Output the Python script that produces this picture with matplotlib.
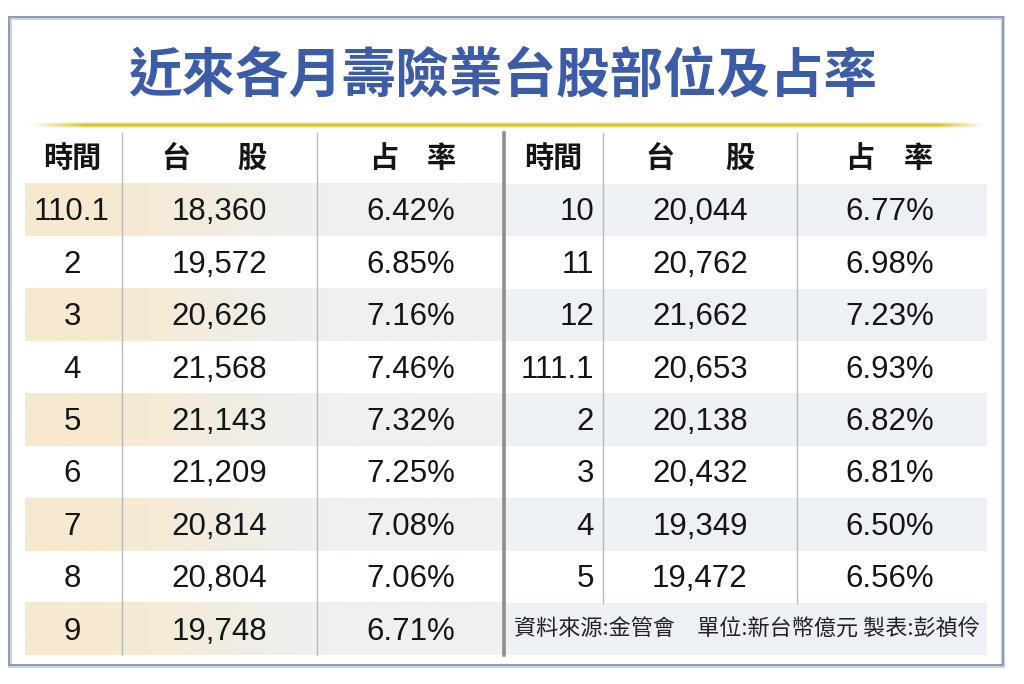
import numpy as np
import matplotlib
matplotlib.use("Agg")
import matplotlib.pyplot as plt
from matplotlib.patches import Rectangle
from matplotlib.colors import to_rgb

# ---- data ----
title = "近來各月壽險業台股部位及占率"
header_time = "時間"
header_stock = ("台", "股")
header_ratio = ("占", "率")
left_time = ["110.1", "2", "3", "4", "5", "6", "7", "8", "9"]
left_stock = [18360, 19572, 20626, 21568, 21143, 21209, 20814, 20804, 19748]
left_ratio = [6.42, 6.85, 7.16, 7.46, 7.32, 7.25, 7.08, 7.06, 6.71]
right_time = ["10", "11", "12", "111.1", "2", "3", "4", "5"]
right_stock = [20044, 20762, 21662, 20653, 20138, 20432, 19349, 19472]
right_ratio = [6.77, 6.98, 7.23, 6.93, 6.82, 6.81, 6.50, 6.56]
footnote = "資料來源:金管會　單位:新台幣億元 製表:彭禎伶"

W, H = 1024, 684
fig = plt.figure(figsize=(W / 100, H / 100), dpi=100)
ax = fig.add_axes([0, 0, 1, 1])
ax.set_xlim(0, W)
ax.set_ylim(H, 0)
ax.axis("off")

CJK = ["Noto Sans CJK TC", "DejaVu Sans"]
NUM = ["Liberation Sans", "DejaVu Sans"]

# frame
ax.add_patch(Rectangle((10, 18), 993, 648, fill=False, ec="#c9d3e3", lw=3.0, zorder=1))
ax.add_patch(Rectangle((9, 17), 994, 648, fill=False, ec="#8f9bb0", lw=1.4, zorder=2))

# title
ax.text(503, 76, title, ha="center", va="center", fontsize=38.5, fontweight="bold",
        color="#3c5ca7", family=CJK, zorder=5)

# yellow gradient line
n = 400
xs = np.linspace(0, 1, n)
alpha = np.clip(np.minimum(xs / 0.06, (1 - xs) / 0.05), 0, 1)
yc = np.array(to_rgb("#dcc22a"))
prof = np.array([0.25, 0.7, 1.0, 1.0, 0.7, 0.25])
img = np.zeros((len(prof), n, 4))
img[..., :3] = yc
img[..., 3] = prof[:, None] * alpha[None, :]
ax.imshow(img, extent=(28, 986, 128, 122), aspect="auto", interpolation="bilinear", zorder=3)

row_h = 52.4
row0 = 210
header_y = 158

def ry(i):
    return row0 + i * row_h

# banded rows
beige = np.array(to_rgb("#f6e9cf"))
gray_l = np.array(to_rgb("#eef0f2"))
gray_r = np.array(to_rgb("#edf0f4"))
for i in range(0, 9, 2):
    top = ry(i) - row_h / 2
    m = 300
    gx = np.linspace(0, 1, m)
    t = np.clip((gx - 0.18) / 0.45, 0, 1)[:, None]
    col = beige * (1 - t) + gray_l * t
    band = np.zeros((1, m, 3))
    band[0] = col
    ax.imshow(band, extent=(25, 504, top + row_h, top), aspect="auto",
              interpolation="bilinear", zorder=1)
    ax.add_patch(Rectangle((504, top), 483, row_h, fc=gray_r, ec="none", zorder=1))

# vertical separators
sep_bottom_left = ry(8) + row_h / 2
sep_bottom_right = ry(7) + row_h / 2
for x in (122, 317):
    ax.plot([x, x], [133, sep_bottom_left], color="#b9b9b9", lw=1.0, zorder=4)
for x in (603, 797):
    ax.plot([x, x], [133, sep_bottom_right], color="#b9b9b9", lw=1.0, zorder=4)
ax.plot([504, 504], [133, sep_bottom_left], color="#8e8e8e", lw=2.6, zorder=4)

# headers
hdr_kw = dict(ha="center", va="center", fontsize=21, fontweight="bold",
              color="#151515", family=CJK, zorder=5)
ax.text(72, header_y, header_time, **hdr_kw)
ax.text(176, header_y, header_stock[0], **hdr_kw)
ax.text(252, header_y, header_stock[1], **hdr_kw)
ax.text(384, header_y, header_ratio[0], **hdr_kw)
ax.text(441, header_y, header_ratio[1], **hdr_kw)
ax.text(553, header_y, header_time, **hdr_kw)
ax.text(660, header_y, header_stock[0], **hdr_kw)
ax.text(740, header_y, header_stock[1], **hdr_kw)
ax.text(860, header_y, header_ratio[0], **hdr_kw)
ax.text(918, header_y, header_ratio[1], **hdr_kw)

dy = 2.5
num_kw = dict(va="center", fontsize=22.5, color="#151515", family=NUM, zorder=5)
for i, (t_, s, r) in enumerate(zip(left_time, left_stock, left_ratio)):
    y = ry(i) + dy
    ax.text(72, y, t_, ha="center", **num_kw)
    ax.text(219, y, f"{s:,}", ha="center", **num_kw)
    ax.text(411, y, f"{r:.2f}%", ha="center", **num_kw)
for i, (t_, s, r) in enumerate(zip(right_time, right_stock, right_ratio)):
    y = ry(i) + dy
    ax.text(594, y, t_, ha="right", **num_kw)
    ax.text(700, y, f"{s:,}", ha="center", **num_kw)
    ax.text(890, y, f"{r:.2f}%", ha="center", **num_kw)

# footnote
ax.text(514, ry(8), footnote, ha="left", va="center", fontsize=15.9,
        color="#222222", family=CJK, zorder=5)

fig.savefig("out.png", dpi=100, facecolor="white")
